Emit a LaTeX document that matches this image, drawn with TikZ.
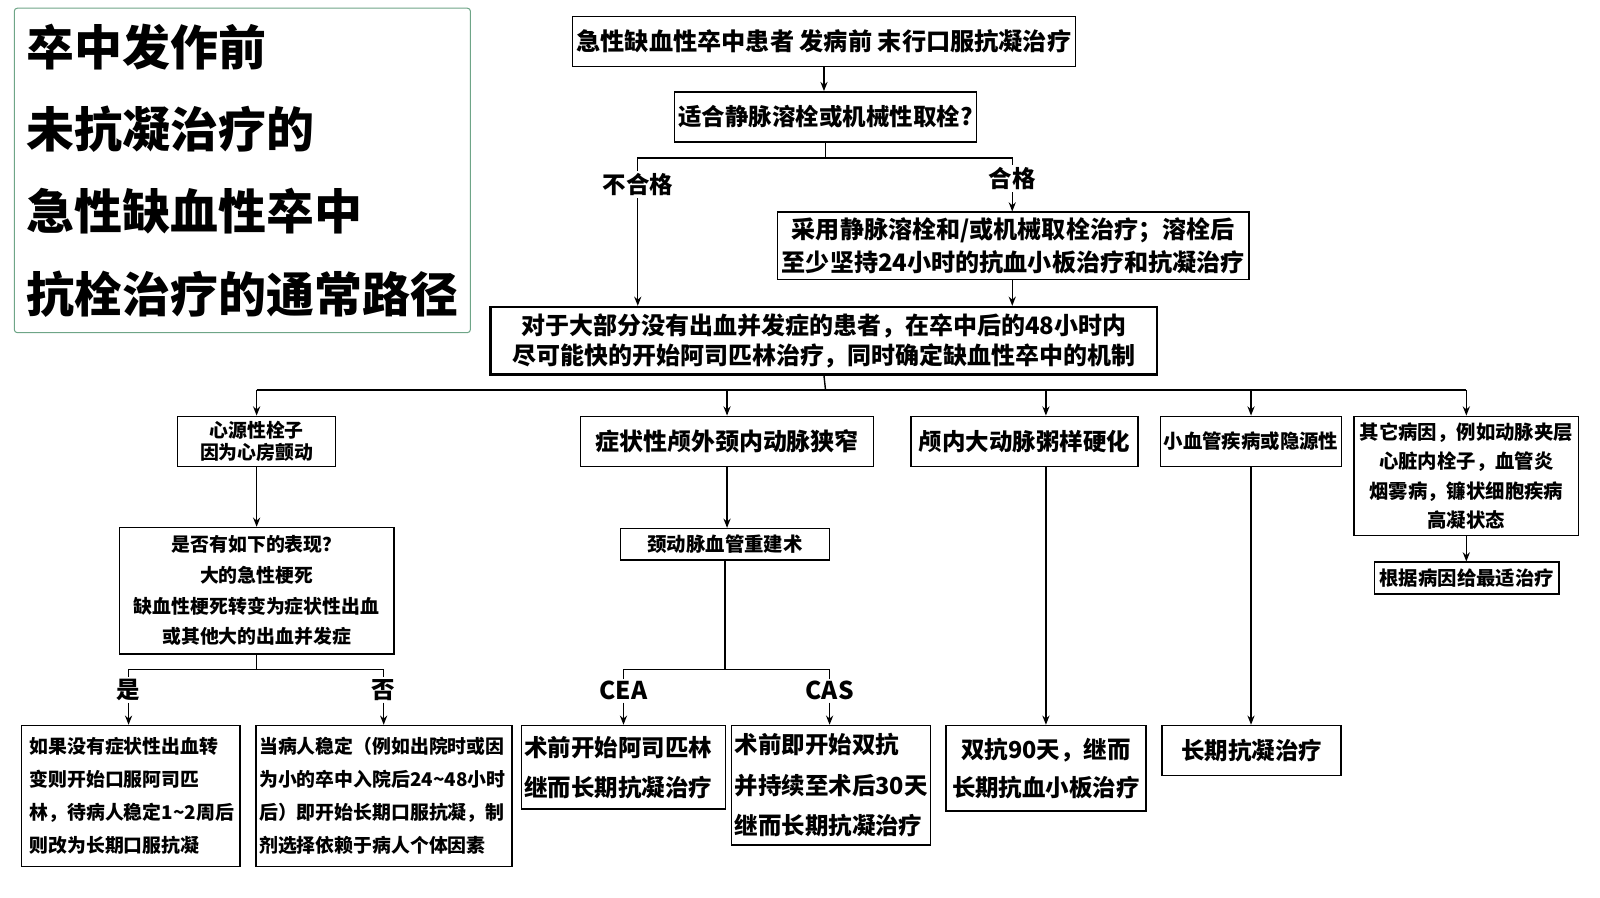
\documentclass[tikz,border=0pt]{standalone}
\usepackage{fontspec}
\setmainfont{Noto Sans CJK SC}
\usetikzlibrary{arrows.meta,positioning}
\newcommand{\boxfont}[2]{\fontsize{#1pt}{#2pt}\selectfont\bfseries}
\definecolor{frame}{RGB}{110,165,135}
\tikzset{
  >={Stealth[length=9pt,width=7pt]},
  box/.style={draw,line width=1.5pt,fill=white,inner sep=3pt,align=center,
    font=\boxfont{23}{33}},
  lbox/.style={box,align=left,text width=#1},
  tag/.style={font=\boxfont{23}{26},inner sep=2pt},
  line/.style={line width=1.4pt},
  flow/.style={->,line width=1.4pt},
}

\begin{document}
\begin{tikzpicture}[x=1pt,y=-1pt]
  \useasboundingbox (0,0) rectangle (1568,880);
  % title
  \node[draw=frame,line width=1pt,rounded corners=3pt,inner xsep=12pt,text width=423,
    minimum height=318,align=left,font=\boxfont{47}{80.7}] (title) at (237.5,167)
    {\raisebox{-2.5pt}{\parbox{423pt}{卒中发作前\\未抗凝治疗的\\急性缺血性卒中\\抗栓治疗的通常路径}}};
  % top part
  \node[box,minimum width=493,minimum height=49,font=\boxfont{23.7}{30}] (onset) at (807.5,40.5) {急性缺血性卒中患者 发病前 末行口服抗凝治疗};
  \node[box,minimum width=296,minimum height=49] (suit) at (809,114.5) {适合静脉溶栓或机械性取栓?};
  \node[box,minimum width=462,minimum height=66,font=\boxfont{23.6}{33}] (lysis) at (993,241)
    {采用静脉溶栓和/或机械取栓治疗；溶栓后\\至少坚持24小时的抗血小板治疗和抗凝治疗};
  \node[box,line width=2.6pt,minimum width=653,minimum height=66,font=\boxfont{23.5}{30}] (asa) at (807.5,334)
    {对于大部分没有出血并发症的患者，在卒中后的48小时内\\尽可能快的开始阿司匹林治疗，同时确定缺血性卒中的机制};
  \node[tag] (unfit) at (625,181) {不合格};
  \node[tag] (fit) at (992,175) {合格};
  % causes
  \node[box,minimum width=155,minimum height=49,font=\boxfont{18.5}{22}] (cardio) at (251.5,432.5) {心源性栓子\\因为心房颤动};
  \node[box,minimum width=287,minimum height=49,font=\boxfont{23.5}{30}] (carotid) at (712.5,432.5) {症状性颅外颈内动脉狭窄};
  \node[box,minimum width=222,minimum height=49] (icas) at (1004,432.5) {颅内大动脉粥样硬化};
  \node[box,minimum width=172,minimum height=49,font=\boxfont{19}{24}] (svd) at (1226,432.5) {小血管疾病或隐源性};
  \node[box,minimum width=220,minimum height=117,font=\boxfont{19}{29}] (other) at (1437,466.5)
    {其它病因，例如动脉夹层\\心脏内栓子，血管炎\\烟雾病，镰状细胞疾病\\高凝状态};
  \node[box,minimum width=181,minimum height=31,font=\boxfont{19}{24}] (bycause) at (1437.5,566.5) {根据病因给最适治疗};
  % cardioembolic branch
  \node[box,minimum width=269,minimum height=124,font=\boxfont{18.5}{30}] (sign) at (251.5,579)
    {是否有如下的表现？\\大的急性梗死\\缺血性梗死转变为症状性出血\\或其他大的出血并发症};
  \node[tag] (yes) at (126,676) {是};
  \node[tag] (no) at (376,676) {否};
  \node[lbox=198,inner xsep=8pt,minimum height=138,font=\boxfont{18.5}{32.5}] (yesbox) at (128,780)
    {如果没有症状性出血转\\变则开始口服阿司匹\\林，待病人稳定1\textasciitilde 2周后\\则改为长期口服抗凝};
  \node[lbox=245,minimum height=138,font=\boxfont{18.5}{32.5}] (nobox) at (376.5,780)
    {当病人稳定（例如出院时或因\\为小的卒中入院后24\textasciitilde 48小时\\后）即开始长期口服抗凝，制\\剂选择依赖于病人个体因素};
  % carotid branch
  \node[box,minimum width=205,minimum height=31,font=\boxfont{19}{24}] (recon) at (710.5,533.5) {颈动脉血管重建术};
  \node[tag,font=\boxfont{24}{28}] (cea) at (611,677) {CEA};
  \node[tag,font=\boxfont{24}{28}] (cas) at (813,677) {CAS};
  \node[lbox=194,minimum height=82,font=\boxfont{23}{39}] (ceabox) at (611,752) {术前开始阿司匹林\\继而长期抗凝治疗};
  \node[lbox=189,minimum height=117,font=\boxfont{23}{39.5}] (casbox) at (814.5,769.5) {术前即开始双抗\\并持续至术后30天\\继而长期抗凝治疗};
  % other ends
  \node[box,minimum width=196,minimum height=84,font=\boxfont{23}{37}] (dual) at (1025,753) {双抗90天，继而\\长期抗血小板治疗};
  \node[box,minimum width=175,minimum height=49] (longac) at (1226.5,735.5) {长期抗凝治疗};

  % connectors
  \coordinate (fork1) at (809,155);
  \coordinate (fork2) at (809,382);
  \coordinate (fork3) at (251.5,656);
  \coordinate (fork4) at (710.5,656);
  \draw[flow] (onset.south) -- (onset.south |- suit.north);
  \draw[line] (suit.south) -- (fork1);
  \draw[line] (unfit.north) |- (fork1) -| (fit.north);
  \draw[flow] (unfit.south) -- (unfit.south |- asa.north);
  \draw[flow] (fit.south) -- (fit.south |- lysis.north);
  \draw[flow] (fit |- lysis.south) -- (fit |- asa.north);
  \draw[line] (asa.south) -- (fork2);
  \draw[line] (cardio |- fork2) -- (other |- fork2);
  \foreach \n in {cardio,carotid,svd,other}
    \draw[flow] (\n |- fork2) -- (\n.north);
  \draw[flow] (dual |- fork2) -- (dual |- icas.north);
  \draw[flow] (dual |- icas.south) -- (dual.north);
  \draw[flow] (svd.south) -- (svd.south |- longac.north);
  \draw[flow] (other.south) -- (other.south |- bycause.north);
  \draw[flow] (cardio.south) -- (sign.north);
  \draw[line] (sign.south) -- (fork3);
  \draw[line] (yes.north) |- (fork3) -| (no.north);
  \draw[flow] (yes.south) -- (yes.south |- yesbox.north);
  \draw[flow] (no.south) -- (no.south |- nobox.north);
  \draw[flow] (carotid.south) -- (carotid.south |- recon.north);
  \draw[line] (recon.south) -- (fork4);
  \draw[line] (cea.north) |- (fork4) -| (cas.north);
  \draw[flow] (cea.south) -- (cea.south |- ceabox.north);
  \draw[flow] (cas.south) -- (cas.south |- casbox.north);
\end{tikzpicture}
\end{document}
